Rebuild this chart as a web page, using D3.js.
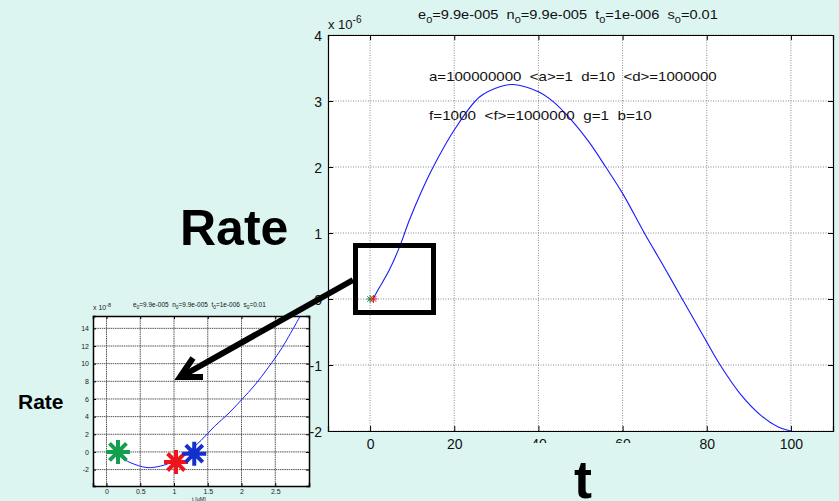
<!DOCTYPE html>
<html>
<head>
<meta charset="utf-8">
<script src="https://cdn.jsdelivr.net/npm/d3@7"></script>
<style>
  html, body { margin: 0; padding: 0; background: #dcf5f1; }
  svg { display: block; }
  text { font-family: "Liberation Sans", Arial, sans-serif; }
</style>
</head>
<body>
<svg id="chart" width="839" height="501"></svg>
<script>
// Main simulation: reaction rate over time
const mainT    = [0.7, 2, 4.5, 7, 9.3, 12, 15, 20, 26, 31, 34, 40, 43.5, 48, 52, 56, 60, 65, 70, 74, 80, 83, 88, 93, 97, 100];
const mainRate = [0, 0.15, 0.43, 0.79, 1.19, 1.6, 2.0, 2.56, 3.06, 3.22, 3.25, 3.14, 2.99, 2.7, 2.38, 2.0, 1.6, 1.02, 0.47, 0.02, -0.65, -0.98, -1.44, -1.77, -1.94, -2.0];
const mainXTicks = [0, 20, 40, 60, 80, 100];
const mainYTicks = [-2, -1, 0, 1, 2, 3, 4];
const mainStarT = [0, 0.8];
const mainStarRate = [0, 0];
const mainStarColor = ["#139a48", "#e8161c"];

// Zoomed-in view near the origin
const insetT    = [0.18, 0.21, 0.35, 0.6, 0.8, 1.0, 1.2, 1.4, 1.6, 1.8, 2.0, 2.2, 2.4, 2.6, 2.87];
const insetRate = [-0.3, -0.57, -1.2, -1.77, -1.6, -1.05, -0.05, 1.3, 2.9, 4.3, 5.9, 7.6, 9.6, 11.8, 15.4];
const insetXTicks = [0, 0.5, 1, 1.5, 2, 2.5];
const insetYTicks = [-2, 0, 2, 4, 6, 8, 10, 12, 14];
const insetStarT = [0.17, 1.03, 1.3];
const insetStarRate = [0, -1.14, -0.2];
const insetStarColor = ["#13a04c", "#ee141c", "#1430cc"];

const paramLine1 = "a=100000000  <a>=1  d=10  <d>=1000000";
const paramLine2 = "f=1000  <f>=1000000  g=1  b=10";
const titleParts = [["e", "0", "=9.9e-005  "], ["n", "0", "=9.9e-005  "], ["t", "0", "=1e-006  "], ["s", "0", "=0.01"]];

const svg = d3.select("#chart");
const BG = "#dcf5f1";
const plain = d => String(d);

// text helper: place text and stretch horizontally to a target width
function stretched(parent, x, y, width, build) {
  const g = parent.append("g").attr("transform", `translate(${x},${y})`);
  const t = g.append("text").attr("x", 0).attr("y", 0).style("white-space", "pre");
  build(t);
  const w = t.node().getComputedTextLength();
  if (width && w > 0) t.attr("transform", `scale(${width / w},1)`);
  return t;
}

function title(parent, x, y, width, fs) {
  stretched(parent, x, y, width, t => {
    t.attr("font-size", fs).attr("fill", "#111");
    titleParts.forEach(([a, s, b]) => {
      t.append("tspan").text(a);
      t.append("tspan").attr("dy", fs * 0.3).attr("font-size", fs * 0.75).text(s);
      t.append("tspan").attr("dy", -fs * 0.3).text(b);
    });
  });
}

function star(parent, cx, cy, r, color, sw) {
  const d = [];
  for (let k = 0; k < 4; k++) {
    const a = k * Math.PI / 4;
    d.push(`M${cx - r * Math.cos(a)},${cy - r * Math.sin(a)}L${cx + r * Math.cos(a)},${cy + r * Math.sin(a)}`);
  }
  parent.append("path").attr("d", d.join("")).attr("stroke", color)
    .attr("stroke-width", sw).attr("fill", "none");
}

// ---------- main axes ----------
const M = { left: 328, right: 833, top: 35, bottom: 431 };
const x = d3.scaleLinear().domain([-10, 110]).range([M.left, M.right]);
const y = d3.scaleLinear().domain([-2, 4]).range([M.bottom, M.top]);

const main = svg.append("g");
main.append("rect").attr("x", M.left).attr("y", M.top)
  .attr("width", M.right - M.left).attr("height", M.bottom - M.top).attr("fill", "#fff");

// grid
main.append("g").selectAll("line").data(mainXTicks).join("line")
  .attr("x1", d => x(d)).attr("x2", d => x(d)).attr("y1", M.top).attr("y2", M.bottom)
  .attr("stroke", "#8a8a8a").attr("stroke-width", 1).attr("stroke-dasharray", "1,1.5");
main.append("g").selectAll("line").data(mainYTicks).join("line")
  .attr("x1", M.left).attr("x2", M.right).attr("y1", d => y(d)).attr("y2", d => y(d))
  .attr("stroke", "#8a8a8a").attr("stroke-width", 1).attr("stroke-dasharray", "1,1.5");

// axes with inward ticks on all four sides
const axB = main.append("g").attr("transform", `translate(0,${M.bottom})`)
  .call(d3.axisBottom(x).tickValues(mainXTicks).tickFormat(plain).tickSize(-5).tickPadding(9));
const axT = main.append("g").attr("transform", `translate(0,${M.top})`)
  .call(d3.axisTop(x).tickValues(mainXTicks).tickSize(-5).tickFormat(""));
const axL = main.append("g").attr("transform", `translate(${M.left},0)`)
  .call(d3.axisLeft(y).tickValues(mainYTicks).tickFormat(plain).tickSize(-5).tickPadding(6));
const axR = main.append("g").attr("transform", `translate(${M.right},0)`)
  .call(d3.axisRight(y).tickValues(mainYTicks).tickSize(-5).tickFormat(""));
[axB, axT, axL, axR].forEach(a => {
  a.select(".domain").attr("stroke", "#000").attr("stroke-width", 1.2);
  a.selectAll(".tick line").attr("stroke", "#000");
  a.selectAll("text").attr("font-size", 14).attr("fill", "#111")
    .attr("font-family", "Liberation Sans, Arial, sans-serif");
});
axL.selectAll(".tick text").attr("dy", "0.36em");
axB.selectAll(".tick text").attr("dy", "0.62em");

// rate curve
const line = d3.line().x((d, i) => x(mainT[i])).y((d, i) => y(mainRate[i])).curve(d3.curveCatmullRom.alpha(0.5));
main.append("path").datum(mainRate).attr("d", line)
  .attr("fill", "none").attr("stroke", "#1a1aff").attr("stroke-width", 1.1);

mainStarT.forEach((t, i) => star(main, x(t), y(mainStarRate[i]), 4, mainStarColor[i], 1));

// exponent and title
const exp = main.append("text").attr("x", M.left).attr("y", 29).attr("font-size", 13).attr("fill", "#111");
exp.append("tspan").text("x 10");
exp.append("tspan").attr("dy", -6).attr("font-size", 10).text("-6");
title(main, 418, 19, 300, 13);

// parameter annotations
stretched(main, 429, 81, 288, t => t.attr("font-size", 13).attr("fill", "#111").text(paramLine1));
stretched(main, 429, 120, 223, t => t.attr("font-size", 13).attr("fill", "#111").text(paramLine2));

// big time label with its own backing box
svg.append("rect").attr("x", 522).attr("y", 443).attr("width", 128).attr("height", 60).attr("fill", BG);
svg.append("text").attr("x", 583).attr("y", 498).attr("text-anchor", "middle")
  .attr("font-size", 54).attr("font-weight", "bold").attr("fill", "#000").text("t");

// big rate label
svg.append("text").attr("x", 180).attr("y", 245).attr("font-size", 50)
  .attr("font-weight", "bold").attr("fill", "#000").text("Rate");

// ---------- inset ----------
const I = { left: 93, right: 309, top: 316, bottom: 486 };
const xi = d3.scaleLinear().domain([-0.2, 3]).range([I.left, I.right]);
const yi = d3.scaleLinear().domain([-3.86, 15.4]).range([I.bottom, I.top]);
const inset = svg.append("g");
inset.append("rect").attr("x", I.left).attr("y", I.top)
  .attr("width", I.right - I.left).attr("height", I.bottom - I.top).attr("fill", "#fff");
inset.append("g").selectAll("line").data(insetXTicks).join("line")
  .attr("x1", d => xi(d)).attr("x2", d => xi(d)).attr("y1", I.top).attr("y2", I.bottom)
  .attr("stroke", "#555").attr("stroke-width", 1).attr("stroke-dasharray", "1.5,0.7");
inset.append("g").selectAll("line").data(insetYTicks).join("line")
  .attr("x1", I.left).attr("x2", I.right).attr("y1", d => yi(d)).attr("y2", d => yi(d))
  .attr("stroke", "#555").attr("stroke-width", 1).attr("stroke-dasharray", "1.5,0.7");

const iB = inset.append("g").attr("transform", `translate(0,${I.bottom})`)
  .call(d3.axisBottom(xi).tickValues(insetXTicks).tickFormat(plain).tickSize(-3).tickPadding(3));
const iT = inset.append("g").attr("transform", `translate(0,${I.top})`)
  .call(d3.axisTop(xi).tickValues(insetXTicks).tickSize(-3).tickFormat(""));
const iL = inset.append("g").attr("transform", `translate(${I.left},0)`)
  .call(d3.axisLeft(yi).tickValues(insetYTicks).tickFormat(plain).tickSize(-3).tickPadding(4));
const iR = inset.append("g").attr("transform", `translate(${I.right},0)`)
  .call(d3.axisRight(yi).tickValues(insetYTicks).tickSize(-3).tickFormat(""));
[iB, iT, iL, iR].forEach(a => {
  a.select(".domain").attr("stroke", "#000").attr("stroke-width", 1.5);
  a.selectAll(".tick line").attr("stroke", "#000");
  a.selectAll("text").attr("font-size", 7).attr("fill", "#222")
    .attr("font-family", "Liberation Sans, Arial, sans-serif");
});

const lineI = d3.line().x((d, i) => xi(insetT[i])).y((d, i) => yi(insetRate[i])).curve(d3.curveCatmullRom.alpha(0.5));
inset.append("path").datum(insetRate).attr("d", lineI)
  .attr("fill", "none").attr("stroke", "#1a1aff").attr("stroke-width", 1);

insetStarT.forEach((t, i) => star(inset, xi(t), yi(insetStarRate[i]), 12, insetStarColor[i], 4));

const expI = inset.append("text").attr("x", I.left).attr("y", 310).attr("font-size", 7).attr("fill", "#222");
expI.append("tspan").text("x 10");
expI.append("tspan").attr("dy", -3).attr("font-size", 5.5).text("-8");
title(inset, 133, 307, 133, 7);
inset.append("text").attr("x", 199).attr("y", 500.5).attr("text-anchor", "middle")
  .attr("font-size", 5.5).attr("fill", "#222").text("t [uM]");

svg.append("text").attr("x", 18).attr("y", 409).attr("font-size", 21)
  .attr("font-weight", "bold").attr("fill", "#000").text("Rate");

// ---------- zoom box and pointer ----------
svg.append("rect").attr("x", 355.5).attr("y", 245.5).attr("width", 78).attr("height", 67)
  .attr("fill", "none").attr("stroke", "#000").attr("stroke-width", 5);
svg.append("line").attr("x1", 353).attr("y1", 280).attr("x2", 184).attr("y2", 375)
  .attr("stroke", "#000").attr("stroke-width", 6);
svg.append("path").attr("d", "M193,358 L180,377 L203,377")
  .attr("fill", "none").attr("stroke", "#000").attr("stroke-width", 6)
  .attr("stroke-linejoin", "miter").attr("stroke-miterlimit", 10);
</script>
</body>
</html>
